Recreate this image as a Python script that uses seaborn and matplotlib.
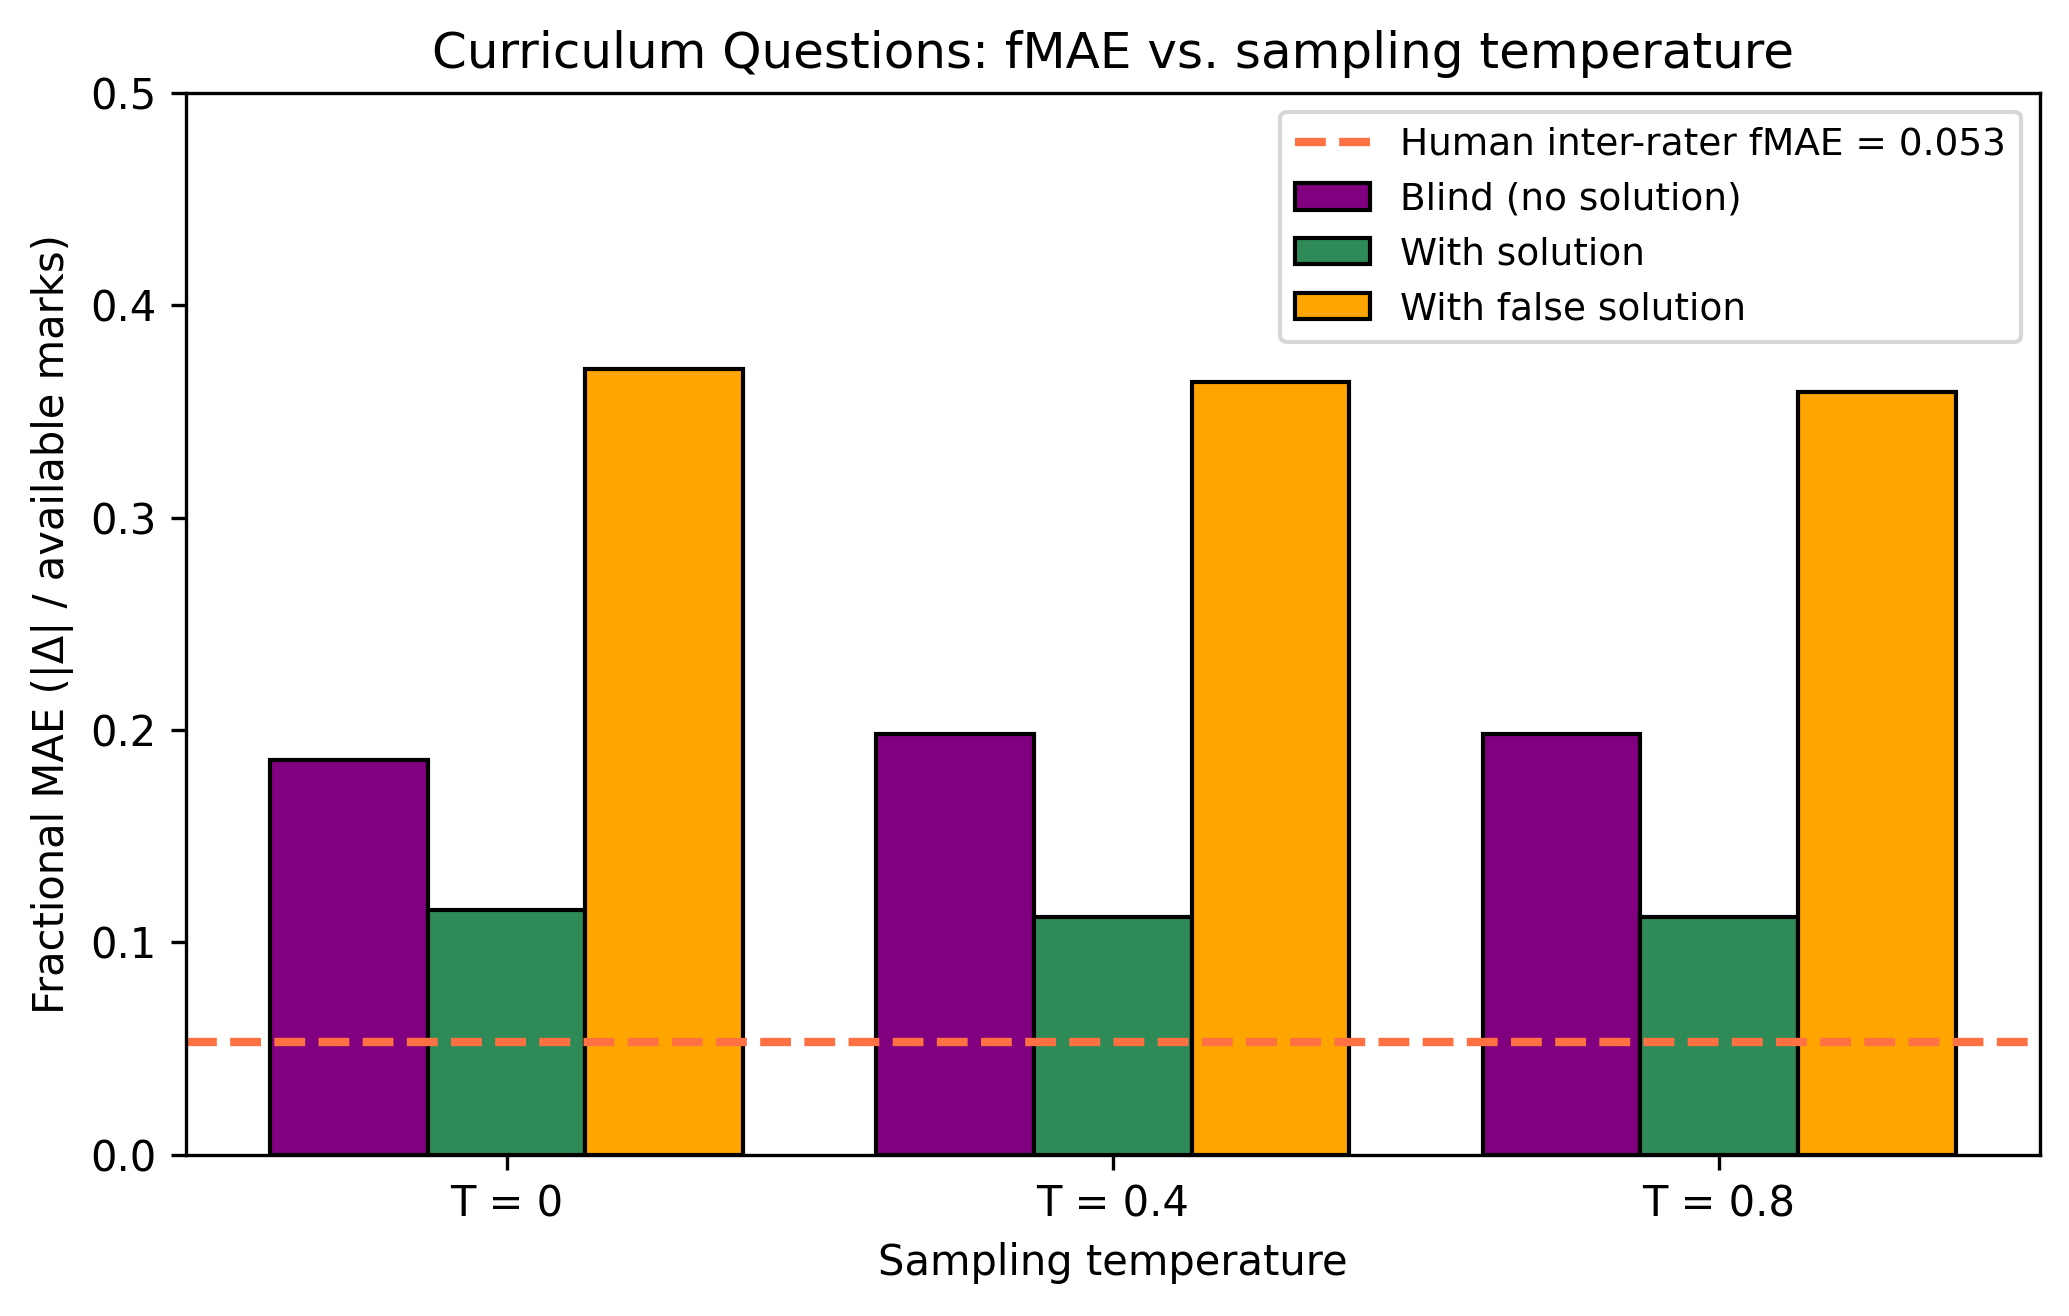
import pandas as pd
import matplotlib
matplotlib.use("Agg")
import matplotlib.pyplot as plt
import seaborn as sns
from matplotlib.patches import Patch
from matplotlib.lines import Line2D

# values
temperatures = ['T = 0', 'T = 0.4', 'T = 0.8']
conditions = ['Blind (no solution)', 'With solution', 'With false solution']
blind = [0.186, 0.198, 0.198]
with_solution = [0.115, 0.112, 0.112]
false_solution = [0.370, 0.364, 0.359]
human_fmae = 0.053

colors = {'Blind (no solution)': 'purple',
          'With solution': 'seagreen',
          'With false solution': 'orange'}
line_color = '#FF7043'

df = pd.DataFrame({
    'Temperature': temperatures * 3,
    'Condition': [conditions[0]] * 3 + [conditions[1]] * 3 + [conditions[2]] * 3,
    'fMAE': blind + with_solution + false_solution,
})

fig, ax = plt.subplots(figsize=(2069 / 300, 1316 / 300), dpi=300)
fig.subplots_adjust(left=0.0898, right=0.9859, bottom=0.1227, top=0.9293)

sns.barplot(data=df, x='Temperature', y='fMAE', hue='Condition',
            hue_order=conditions, palette=colors, width=0.78,
            edgecolor='black', linewidth=1, saturation=1, ax=ax, legend=False)

# human inter-rater baseline
ax.axhline(human_fmae, color=line_color, linestyle='--', linewidth=2)

ax.set_xlim(-0.529, 2.529)
ax.set_ylim(0, 0.5)
ax.set_title('Curriculum Questions: fMAE vs. sampling temperature', fontsize=12)
ax.set_xlabel('Sampling temperature', fontsize=10)
ax.set_ylabel('Fractional MAE (|Δ| / available marks)', fontsize=10)
ax.tick_params(labelsize=10)

handles = [Line2D([0], [0], color=line_color, linestyle='--', linewidth=2)]
handles += [Patch(facecolor=colors[c], edgecolor='black') for c in conditions]
labels = [f'Human inter-rater fMAE = {human_fmae}'] + conditions
ax.legend(handles, labels, loc='upper right', fontsize=9)

plt.savefig('out.png', dpi=300)
plt.close()
